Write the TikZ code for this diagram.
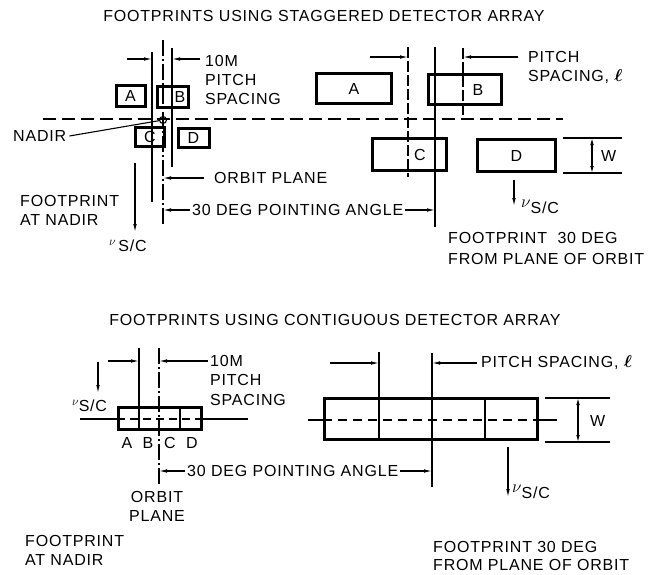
\documentclass[tikz,border=0pt]{standalone}
\usepackage{amsmath}
\usepackage{fontspec}
\setmainfont{Liberation Sans}[LetterSpace=5]
\usetikzlibrary{arrows.meta}
\begin{document}
\begin{tikzpicture}[x=1pt,y=-1pt, font=\fontsize{16}{18}\selectfont,
  box/.style={draw, line width=3pt, inner sep=0pt},
  ln/.style={line width=1.1pt},
  dim/.style={line width=1.1pt, -{Latex[length=8pt,width=3.6pt]}},
  dd/.style={line width=1.1pt, {Latex[length=7pt,width=3.6pt]}-{Latex[length=7pt,width=3.6pt]}},
  dsh/.style={line width=1.1pt, dash pattern=on 13pt off 6pt},
  dashdot/.style={line width=1.1pt, dash pattern=on 16pt off 3pt on 2pt off 3pt},
  longdash/.style={line width=1.1pt, dash pattern=on 11pt off 3pt},
  txt/.style={anchor=west, inner sep=0pt},
  ctxt/.style={anchor=center, inner sep=0pt},
]
\useasboundingbox (0,0) rectangle (649,574);

% ---------------- TOP ----------------
\node[ctxt] (title1) at (324,16) {FOOTPRINTS USING STAGGERED DETECTOR ARRAY};

% dashed reference line
\coordinate (dL1) at (43,119);
\coordinate (dR1) at (563,119);
\draw[dsh] (dL1) -- (dR1);

% top-left boxes
\node[box, minimum width=29pt, minimum height=21pt] (A1) at (130.5,96) {A};
\node[box, minimum width=31pt, minimum height=21pt] (B1) at (172.5,96.5) {\hspace{15pt}B};
\node[box, minimum width=29pt, minimum height=19pt] (C1) at (150,137) {C\hspace{11pt}};
\node[box, minimum width=31pt, minimum height=19pt] (D1) at (193.5,137.5) {D};

% vertical lines top-left
\coordinate (l1t) at (152,52);  \coordinate (l1b) at (152,202);
\coordinate (o1t) at (163,40);  \coordinate (o1b) at (163,225);
\coordinate (l3t) at (172,48);  \coordinate (l3b) at (172,167);
\draw[ln] (l1t) -- (l1b);
\draw[dashdot] (o1t) -- (o1b);
\draw[ln] (l3t) -- (l3b);

\node[circle, draw, line width=1.1pt, minimum size=7pt, inner sep=0pt] (nadir) at (163,120) {};

% pitch arrows
\coordinate (pa1) at (127,59);
\coordinate (pa2) at (200,59);
\draw[dim] (pa1) -- (l1t |- pa1);
\draw[dim] (pa2) -- (l3t |- pa2);
\node[txt] (m10a) at (205,61) {10M};
\node[txt] (pita) at (205,80) {PITCH};
\node[txt] (spca) at (205,98.5) {SPACING};

% nadir label
\node[txt] (nadirlbl) at (13,136) {NADIR};
\draw[ln] ([xshift=3pt]nadirlbl.east) -- (nadir);

% orbit plane
\node[txt] (orb1) at (214,178) {ORBIT PLANE};
\draw[dim] ([xshift=-10pt]orb1.west) -- (o1t |- orb1.west);

% pointing angle
\node[txt] (ang1) at (192,210) {30 DEG POINTING ANGLE};
\coordinate (r2t) at (435,47); \coordinate (r2b) at (435,227);
\draw[dim] ([xshift=-2pt]ang1.west) -- (o1t |- ang1.west);
\draw[dim] ([xshift=2pt]ang1.east) -- (r2t |- ang1.east);

% velocity
\coordinate (v1t) at (135,163); \coordinate (v1b) at (135,232);
\draw[dim] (v1t) -- (v1b);
\node[txt] (v1) at (109,246) {\raisebox{6pt}{\fontsize{13}{13}\selectfont$\nu$}\,S/C};

\node[txt] (fpn1) at (20,201) {FOOTPRINT};
\node[txt] (fpn2) at (20,220) {AT NADIR};

% top-right boxes
\node[box, minimum width=75pt, minimum height=30pt] (A2) at (354,88.5) {A};
\node[box, minimum width=73pt, minimum height=30pt] (B2) at (465,89.5) {\hspace{26pt}B};
\node[box, minimum width=74pt, minimum height=32pt] (C2) at (409.5,154.5) {\hspace{21pt}C};
\node[box, minimum width=78pt, minimum height=32pt] (D2) at (516.5,155.5) {D};

\coordinate (r1t) at (408,47); \coordinate (r1b) at (408,177);
\coordinate (r3t) at (463,48); \coordinate (r3b) at (463,118);
\draw[longdash] (r1t) -- (r1b);
\draw[ln] (r2t) -- (r2b);
\draw[longdash] (r3t) -- (r3b);

\coordinate (pb1) at (370,57);
\coordinate (pb2) at (518,57);
\draw[dim] (pb1) -- (r1t |- pb1);
\draw[dim] (pb2) -- (r3t |- pb2);
\node[txt] (pitb) at (528,57) {PITCH};
\node[txt] (spcb) at (528,77) {SPACING, $\boldsymbol{\ell}$};

% W dimension
\coordinate (w1a) at (563,138); \coordinate (w1b) at (622,138);
\coordinate (w2a) at (563,173); \coordinate (w2b) at (622,173);
\draw[ln] (w1a) -- (w1b);
\draw[ln] (w2a) -- (w2b);
\draw[dd] (592,138) -- (592,173);
\node[txt] (W1) at (601,156) {W};

\coordinate (v2t) at (514,180); \coordinate (v2b) at (514,206);
\draw[dim] (v2t) -- (v2b);
\node[txt] (v2) at (521,207) {$\nu$\raisebox{-6pt}{S/C}};

\node[txt] (fp30a) at (448,238) {FOOTPRINT\ \ 30 DEG};
\node[txt] (fp30b) at (448,259) {FROM PLANE OF ORBIT};

% ---------------- BOTTOM ----------------
\node[ctxt] (title2) at (335,320) {FOOTPRINTS USING CONTIGUOUS DETECTOR ARRAY};

% bottom-left array
\coordinate (hl1) at (80,419); \coordinate (hl2) at (248,419);
\node[box, minimum width=83pt, minimum height=22pt] (arr1) at (160,418.5) {};
\draw[ln] (hl1) -- (arr1.west |- hl1);
\draw[ln] (arr1.east |- hl2) -- (hl2);
\draw[line width=1.1pt, dash pattern=on 8pt off 5pt] (arr1.west |- hl1) -- (arr1.east |- hl2);
\coordinate (bl1t) at (139,348);
\coordinate (bo1t) at (159,348); \coordinate (bo1b) at (159,485);
\draw[ln] (bl1t) -- (bl1t |- arr1.south);
\draw[dashdot] (bo1t) -- (bo1b);
\draw[ln] (180,0 |- arr1.north) -- (180,0 |- arr1.south);

\draw[dim] (108,361) -- (bl1t |- 0,361);
\draw[dim] (208,361) -- (bo1t |- 0,361);
\node[txt] (m10b) at (210,361) {10M};
\node[txt] (pitc) at (210,380) {PITCH};
\node[txt] (spcc) at (210,400) {SPACING};

\coordinate (v3t) at (98,362); \coordinate (v3b) at (98,393);
\draw[dim] (v3t) -- (v3b);
\node[txt] (v3) at (72,406) {\raisebox{6pt}{\fontsize{13}{13}\selectfont$\nu$}S/C};

\node[ctxt] (la) at (127,443) {A};
\node[ctxt] (lb) at (148,443) {B};
\node[ctxt] (lc) at (170,443) {C};
\node[ctxt] (ld) at (192,443) {D};

\node[txt] (ang2) at (187,471) {30 DEG POINTING ANGLE};
\coordinate (br2t) at (432,353); \coordinate (br2b) at (432,487);
\draw[dim] ([xshift=-2pt]ang2.west) -- (bo1t |- ang2.west);
\draw[dim] ([xshift=2pt]ang2.east) -- (br2t |- ang2.east);

\node[ctxt] (orb2a) at (157,497) {ORBIT};
\node[ctxt] (orb2b) at (157,516) {PLANE};

\node[txt] (fpn3) at (25,541) {FOOTPRINT};
\node[txt] (fpn4) at (25,560) {AT NADIR};

% bottom-right array
\coordinate (hr1) at (308,420); \coordinate (hr2) at (557,420);
\node[box, minimum width=213pt, minimum height=41pt] (arr2) at (431,419) {};
\draw[ln] (hr1) -- (arr2.west |- hr1);
\draw[ln] (arr2.east |- hr2) -- (hr2);
\draw[line width=1.1pt, dash pattern=on 9pt off 6pt] (arr2.west |- hr1) -- (arr2.east |- hr2);
\coordinate (br1t) at (379,352);
\draw[ln] (br1t) -- (br1t |- arr2.south);
\draw[ln] (br2t) -- (br2b);
\draw[ln] (485,0 |- arr2.north) -- (485,0 |- arr2.south);

\draw[dim] (330,363) -- (br1t |- 0,363);
\draw[dim] (477,363) -- (br2t |- 0,363);
\node[txt] (pitd) at (481,363) {PITCH SPACING, $\boldsymbol{\ell}$};

\coordinate (w3a) at (545,398); \coordinate (w3b) at (610,398);
\coordinate (w4a) at (545,442); \coordinate (w4b) at (610,442);
\draw[ln] (w3a) -- (w3b);
\draw[ln] (w4a) -- (w4b);
\draw[dd] (578,398) -- (578,442);
\node[txt] (W2) at (590,421) {W};

\coordinate (v4t) at (508,447); \coordinate (v4b) at (508,497);
\draw[dim] (v4t) -- (v4b);
\node[txt] (v4) at (512,492) {$\nu$\raisebox{-6pt}{S/C}};

\node[txt] (fp30c) at (433,547) {FOOTPRINT 30 DEG};
\node[txt] (fp30d) at (433,565) {FROM PLANE OF ORBIT};
\end{tikzpicture}
\end{document}
